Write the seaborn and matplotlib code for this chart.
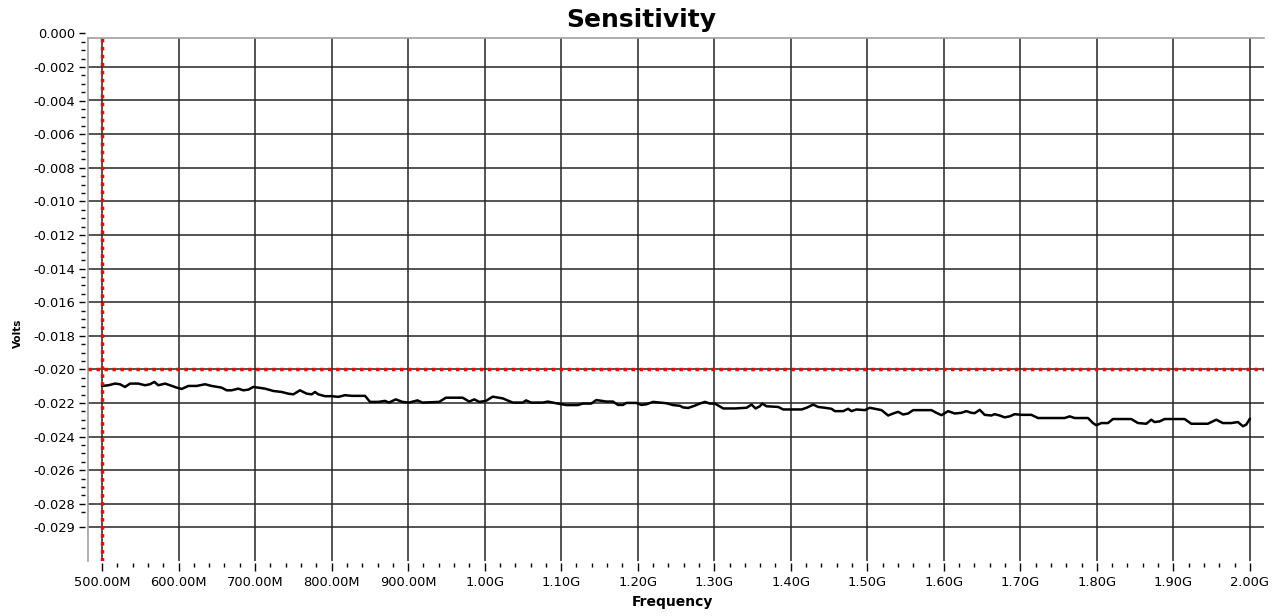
import numpy as np
import pandas as pd
import matplotlib
matplotlib.use("Agg")
import matplotlib.pyplot as plt
from matplotlib.ticker import FixedLocator, FuncFormatter
import seaborn as sns


# =====================================
# DATA
# =====================================

# frequency in MHz
freq_mhz = [
    500, 508.3, 517, 523.5, 530, 536.6, 547.5, 556.2, 562.7, 568.4,
    573.6, 582.3, 588.9, 597.6, 604.1, 612.8, 623.7, 634.6, 643.3, 656.3,
    662.9, 669.4, 678.1, 684.6, 691.2, 697.7, 704.2, 713, 723.9, 734.8,
    743.5, 750, 758.7, 767.4, 774, 778.3, 782.6, 791.4, 800.1, 808.8,
    817.5, 826.2, 843.7, 850.2, 861.1, 869.8,
    875, 883.8, 892.6, 901.3, 912.2, 918.8, 940.6, 949.3, 971.2, 979.9,
    986.5, 993, 1001.7, 1010.5, 1023.6, 1036.7, 1049.8, 1054.1, 1060.7, 1076,
    1082.5, 1093.4, 1106.6, 1121.8, 1128.4, 1139.3, 1145.9, 1159, 1167.7, 1174.2,
    1180.8, 1185.2, 1198.3, 1204.8, 1211.4, 1220.1, 1237.6, 1246.3, 1255, 1259.4,
    1266, 1274.8, 1281.3, 1287.8, 1294.3, 1300.9, 1311.8, 1327, 1342.2, 1348.8,
    1354, 1359.6, 1362.7, 1368.4, 1383.6, 1390.1, 1401, 1414.1, 1420.6, 1429.3,
    1435.8, 1444.5, 1453.2, 1457.6, 1468.5, 1475, 1479.4, 1485.9, 1496.8, 1503.3,
    1518.6, 1527.3, 1533.8, 1540.3, 1546.8, 1553.4, 1559.9, 1575.1, 1583.8, 1590.4,
    1596.9, 1605.6, 1614.3, 1623, 1629.5, 1636.1,
    1640.4, 1646.9, 1653.4, 1662.1, 1666.5, 1673, 1679.5, 1686.1, 1692.6, 1701.3,
    1714.4, 1723.1, 1736.1, 1757.9, 1764.5, 1771, 1788.4, 1794.9, 1799.3, 1805.8,
    1814.5, 1821, 1845, 1853.7, 1864.6, 1871.1, 1875.4, 1882, 1888.5, 1901.6,
    1914.7, 1923.3, 1945.1, 1956, 1964.7, 1975.6, 1984.3, 1990.9, 1995.2, 2000,
]

# sensitivity in mV
sens_mv = [
    -20.99, -20.95, -20.85, -20.89, -21.05, -20.85, -20.85, -20.95, -20.89, -20.75,
    -20.95, -20.85, -20.95, -21.09, -21.17, -20.99, -20.99, -20.89, -20.99, -21.09,
    -21.25, -21.25, -21.15, -21.25, -21.21, -21.05, -21.09, -21.15, -21.29, -21.35,
    -21.45, -21.49, -21.25, -21.45, -21.49, -21.35, -21.49, -21.60, -21.60, -21.64,
    -21.54, -21.58, -21.58, -21.94, -21.94, -21.88,
    -21.98, -21.79, -21.94, -21.98, -21.85, -21.98, -21.94, -21.69, -21.69, -21.92,
    -21.79, -21.94, -21.88, -21.63, -21.73, -21.98, -21.98, -21.85, -21.98, -21.98,
    -21.92, -22.02, -22.13, -22.13, -22.04, -22.04, -21.83, -21.92, -21.92, -22.12,
    -22.12, -22.00, -22.00, -22.12, -22.08, -21.94, -22.02, -22.13, -22.17, -22.27,
    -22.30, -22.16, -22.04, -21.94, -22.04, -22.04, -22.33, -22.33, -22.29, -22.10,
    -22.33, -22.20, -22.04, -22.20, -22.24, -22.39, -22.39, -22.39, -22.29, -22.10,
    -22.24, -22.29, -22.35, -22.49, -22.49, -22.35, -22.49, -22.39, -22.43, -22.29,
    -22.43, -22.75, -22.63, -22.53, -22.69, -22.63, -22.43, -22.43, -22.43, -22.59,
    -22.73, -22.49, -22.63, -22.59, -22.49, -22.59,
    -22.61, -22.41, -22.71, -22.75, -22.67, -22.75, -22.86, -22.80, -22.67, -22.71,
    -22.71, -22.90, -22.90, -22.90, -22.80, -22.90, -22.90, -23.20, -23.33, -23.20,
    -23.20, -22.96, -22.96, -23.20, -23.24, -23.00, -23.14, -23.10, -22.96, -22.96,
    -22.96, -23.24, -23.24, -23.00, -23.20, -23.20, -23.14, -23.39, -23.29, -22.94,
]

# cursor positions
cursor_freq = 500
cursor_volts = -0.020

# axis scales
x_major_ticks = [500, 600, 700, 800, 900, 1000, 1100, 1200, 1300,
                 1400, 1500, 1600, 1700, 1800, 1900, 2000]
y_major_ticks = [0.000, -0.002, -0.004, -0.006, -0.008, -0.010, -0.012,
                 -0.014, -0.016, -0.018, -0.020, -0.022, -0.024, -0.026,
                 -0.028, -0.0294]

df = pd.DataFrame({
    "freq": freq_mhz,
    "volts": np.array(sens_mv) / 1000.0,
})


# =====================================
# STYLE
# =====================================

sns.set_style("white")

plt.rcParams["font.family"] = ["DejaVu Sans"]
plt.rcParams["axes.unicode_minus"] = False
plt.rcParams["text.color"] = "black"
plt.rcParams["xtick.color"] = "black"
plt.rcParams["ytick.color"] = "black"

W, H = 1278, 616

fig = plt.figure(figsize=(W / 100, H / 100), dpi=100)

# plot area in pixels
px_left, px_right = 88, 1264
px_top, px_bottom = 38, 561
px_zero = 33.3  # pixel row of 0.000 on the scale

ax = fig.add_axes([
    px_left / W,
    1 - px_bottom / H,
    (px_right - px_left) / W,
    (px_bottom - px_top) / H,
])

# separate scale axes for the volts ticks (extends above the frame)
ax_y = fig.add_axes([
    px_left / W,
    1 - px_bottom / H,
    0.01,
    (px_bottom - px_zero) / H,
])

x_lo, x_hi = 481.7, 2018.4
y_lo = -0.03141
y_top_frame = -0.00028

ax.set_xlim(x_lo, x_hi)
ax.set_ylim(y_lo, y_top_frame)
ax_y.set_ylim(y_lo, 0.0)


# =====================================
# GRID + FRAME
# =====================================

grid_color = "#262626"

ax.xaxis.set_major_locator(FixedLocator(x_major_ticks))
ax.xaxis.set_minor_locator(
    FixedLocator([t for t in np.arange(500, 2001, 20) if t % 100 != 0])
)
ax.yaxis.set_major_locator(FixedLocator(y_major_ticks))

ax.grid(True, which="major", color=grid_color, linewidth=1.1)

for side in ["right", "bottom"]:
    ax.spines[side].set_visible(False)

for side in ["left", "top"]:
    ax.spines[side].set_color("#a0a0a0")
    ax.spines[side].set_linewidth(1.2)

ax.spines["bottom"].set_position(("outward", 1.5))

ax.tick_params(axis="y", left=False, labelleft=False)
ax.tick_params(
    axis="x",
    which="major",
    bottom=True,
    direction="out",
    length=5.8,
    width=1.0,
    color="black",
    pad=3.5,
    labelsize=9.4,
)
ax.tick_params(
    axis="x",
    which="minor",
    bottom=True,
    direction="out",
    length=3.0,
    width=1.0,
    color="black",
)

ax.xaxis.set_major_formatter(
    FuncFormatter(
        lambda f, pos: f"{f:.2f}M" if f < 1000 else f"{f / 1000:.2f}G"
    )
)

# volts scale
ax_y.patch.set_visible(False)
for side in ["right", "bottom", "top", "left"]:
    ax_y.spines[side].set_visible(False)
ax_y.spines["left"].set_position(("outward", 2.2))
ax_y.set_xticks([])

ax_y.yaxis.set_major_locator(FixedLocator(y_major_ticks))
ax_y.yaxis.set_minor_locator(
    FixedLocator([t for t in np.arange(-0.0285, 0.0001, 0.0005)
                  if abs(t * 500 - round(t * 500)) > 1e-6])
)
ax_y.yaxis.set_major_formatter(FuncFormatter(lambda v, pos: f"{v:.3f}"))

ax_y.tick_params(
    axis="y",
    which="major",
    left=True,
    direction="out",
    length=4.3,
    width=1.0,
    color="black",
    pad=2.9,
    labelsize=9.4,
)
ax_y.tick_params(
    axis="y",
    which="minor",
    left=True,
    direction="out",
    length=2.6,
    width=1.0,
    color="black",
)


# =====================================
# DATA LINE + CURSORS
# =====================================

sns.lineplot(
    data=df,
    x="freq",
    y="volts",
    ax=ax,
    color="black",
    linewidth=1.8,
    zorder=3,
)

ax.axvline(
    cursor_freq,
    color="#ff0000",
    linewidth=2.5,
    linestyle=(0, (1, 1.3)),
    zorder=4,
)

ax.axhline(
    cursor_volts,
    color="#ff0000",
    linewidth=2.5,
    linestyle=(0, (1, 1.3)),
    zorder=4,
)

ax.set_xlabel("")
ax.set_ylabel("")


# =====================================
# TEXT
# =====================================

fig.text(
    641.5 / W,
    1 - 26.7 / H,
    "Sensitivity",
    ha="center",
    va="baseline",
    fontsize=18,
    fontweight="bold",
)

fig.text(
    672 / W,
    1 - 606 / H,
    "Frequency",
    ha="center",
    va="baseline",
    fontsize=10,
    fontweight="bold",
)

fig.text(
    17.5 / W,
    1 - 333 / H,
    "Volts",
    ha="center",
    va="center",
    rotation=90,
    fontsize=7.5,
    fontweight="bold",
)

plt.savefig("out.png", dpi=100)

plt.close()
